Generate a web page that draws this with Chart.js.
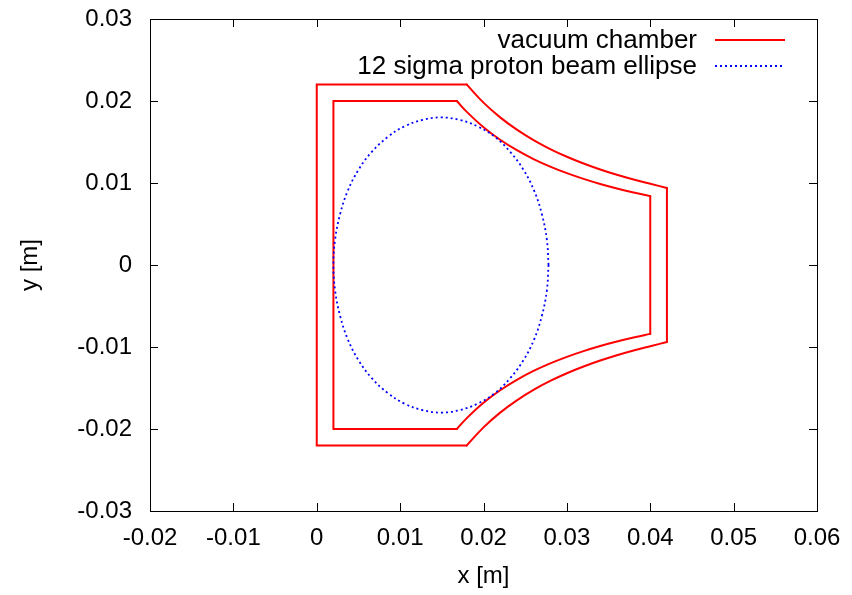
<!DOCTYPE html>
<html>
<head>
<meta charset="utf-8">
<script src="https://cdn.jsdelivr.net/npm/chart.js@4.4.1/dist/chart.umd.min.js"></script>
<style>
  html, body { margin: 0; padding: 0; background: #fff; }
</style>
</head>
<body>
<canvas id="chamberChart" width="852" height="595"></canvas>
<script>
// tick values on the axes
const xTicks = [-0.02, -0.01, 0, 0.01, 0.02, 0.03, 0.04, 0.05, 0.06];
const yTicks = [-0.03, -0.02, -0.01, 0, 0.01, 0.02, 0.03];

// vacuum chamber walls [x, y] in metres, null = break in the line
const outerEdges = [
    [0.018, 0.022], [0, 0.022], [0, -0.022], [0.018, -0.022], null,
    [0.042, 0.0094], [0.042, -0.0094]
];
const outerCurves = [
    [0.018, 0.0220], [0.020, 0.0198], [0.022, 0.0180], [0.024, 0.0165], [0.026, 0.01523],
    [0.028, 0.01414], [0.030, 0.0132], [0.032, 0.01238], [0.034, 0.01165], [0.036, 0.0110],
    [0.038, 0.01042], [0.040, 0.0099], [0.042, 0.0094], null,
    [0.018, -0.0220], [0.020, -0.0198], [0.022, -0.0180], [0.024, -0.0165], [0.026, -0.01523],
    [0.028, -0.01414], [0.030, -0.0132], [0.032, -0.01238], [0.034, -0.01165], [0.036, -0.0110],
    [0.038, -0.01042], [0.040, -0.0099], [0.042, -0.0094]
];
const innerEdges = [
    [0.0168, 0.020], [0.002, 0.020], [0.002, -0.020], [0.0168, -0.020], null,
    [0.040, 0.0084], [0.040, -0.0084]
];
const innerCurves = [
    [0.0168, 0.0200], [0.018, 0.01867], [0.020, 0.0168], [0.022, 0.01527], [0.024, 0.0140],
    [0.026, 0.01292], [0.028, 0.0120], [0.030, 0.0112], [0.032, 0.0105], [0.034, 0.00988],
    [0.036, 0.00933], [0.038, 0.00884], [0.040, 0.0084], null,
    [0.0168, -0.0200], [0.018, -0.01867], [0.020, -0.0168], [0.022, -0.01527], [0.024, -0.0140],
    [0.026, -0.01292], [0.028, -0.0120], [0.030, -0.0112], [0.032, -0.0105], [0.034, -0.00988],
    [0.036, -0.00933], [0.038, -0.00884], [0.040, -0.0084]
];

// 12 sigma beam ellipse, read round the curve
const beamEllipse = [
    [0.0278, 0.0000], [0.0276, 0.0031], [0.0270, 0.0062], [0.0261, 0.0090], [0.0248, 0.0116],
    [0.0232, 0.0138], [0.0214, 0.0156], [0.0193, 0.0169], [0.0171, 0.0177], [0.0149, 0.0180],
    [0.0127, 0.0177], [0.0105, 0.0169], [0.0085, 0.0156], [0.0066, 0.0138], [0.0050, 0.0116],
    [0.0037, 0.0090], [0.0028, 0.0062], [0.0022, 0.0031], [0.0020, 0.0000],
    [0.0022, -0.0031], [0.0028, -0.0062], [0.0037, -0.0090], [0.0050, -0.0116], [0.0066, -0.0138],
    [0.0085, -0.0156], [0.0105, -0.0169], [0.0127, -0.0177], [0.0149, -0.0180], [0.0171, -0.0177],
    [0.0193, -0.0169], [0.0214, -0.0156], [0.0232, -0.0138], [0.0248, -0.0116], [0.0261, -0.0090],
    [0.0270, -0.0062], [0.0276, -0.0031], [0.0278, 0.0000]
];

const toPoints = list => list.map(p => p ? { x: p[0], y: p[1] } : { x: null, y: null });
const family = "'Liberation Sans', Arial, sans-serif";
const font = { family: family, size: 24 };
const keyFont = { family: family, size: 26 };

// gnuplot style frame with inward ticks on all four sides
const framePlugin = {
    id: 'frame',
    afterDatasetsDraw(chart) {
        const { ctx, chartArea: a, scales: { x, y } } = chart;
        ctx.save();
        ctx.strokeStyle = '#000';
        ctx.lineWidth = 1;
        ctx.beginPath();
        xTicks.forEach(v => {
            const px = Math.round(x.getPixelForValue(v)) + 0.5;
            ctx.moveTo(px, a.bottom); ctx.lineTo(px, a.bottom - 8);
            ctx.moveTo(px, a.top); ctx.lineTo(px, a.top + 8);
        });
        yTicks.forEach(v => {
            const py = Math.round(y.getPixelForValue(v)) + 0.5;
            ctx.moveTo(a.left, py); ctx.lineTo(a.left + 8, py);
            ctx.moveTo(a.right, py); ctx.lineTo(a.right - 8, py);
        });
        ctx.stroke();
        ctx.strokeRect(Math.round(a.left) + 0.5, Math.round(a.top) + 0.5,
            Math.round(a.right - a.left), Math.round(a.bottom - a.top));
        ctx.restore();
    }
};

// legend in the top right corner, text to the left of the sample
const keyPlugin = {
    id: 'key',
    afterDraw(chart) {
        const { ctx, chartArea: a } = chart;
        ctx.save();
        ctx.font = `${keyFont.size}px ${keyFont.family}`;
        ctx.textAlign = 'right';
        ctx.textBaseline = 'middle';
        let row = 0;
        chart.data.datasets.forEach(ds => {
            if (!ds.inKey) return;
            const yy = a.top + 21 + row * 26;
            ctx.fillStyle = '#000';
            ctx.fillText(ds.label, a.right - 120, yy + 1);
            ctx.strokeStyle = ds.borderColor;
            ctx.lineWidth = ds.borderWidth;
            ctx.setLineDash(ds.borderDash || []);
            ctx.beginPath();
            ctx.moveTo(a.right - 102, yy);
            ctx.lineTo(a.right - 32, yy);
            ctx.stroke();
            row++;
        });
        ctx.restore();
    }
};

const wall = (label, list, tension, inKey) => ({
    label: label,
    inKey: inKey,
    data: toPoints(list),
    showLine: true,
    spanGaps: false,
    borderColor: '#ff0000',
    borderWidth: 2,
    borderCapStyle: 'round',
    pointRadius: 0,
    tension: tension,
    order: 2
});

new Chart(document.getElementById('chamberChart'), {
    type: 'scatter',
    data: {
        datasets: [
            wall('vacuum chamber', outerEdges, 0, true),
            wall('outer curves', outerCurves, 0.4, false),
            wall('inner edges', innerEdges, 0, false),
            wall('inner curves', innerCurves, 0.4, false),
            {
                label: '12 sigma proton beam ellipse',
                inKey: true,
                data: toPoints(beamEllipse),
                showLine: true,
                borderColor: '#0000ff',
                borderWidth: 1.8,
                borderDash: [2, 3],
                pointRadius: 0,
                tension: 0.4,
                order: 1
            }
        ]
    },
    options: {
        responsive: false,
        animation: false,
        layout: { padding: { top: 19, right: 35, left: 0, bottom: 0 } },
        plugins: {
            legend: { display: false },
            tooltip: { enabled: false }
        },
        scales: {
            x: {
                type: 'linear',
                min: -0.02,
                max: 0.06,
                afterFit: s => { s.height = 84; s.paddingLeft = 0; s.paddingRight = 0; },
                afterBuildTicks: s => { s.ticks = xTicks.map(v => ({ value: v })); },
                ticks: { font: font, color: '#000', padding: 13, maxRotation: 0, autoSkip: false, callback: v => String(v) },
                grid: { display: false, drawTicks: false },
                border: { display: false },
                title: { display: true, text: 'x [m]', font: font, color: '#000', padding: { top: 0, bottom: 4 } }
            },
            y: {
                type: 'linear',
                min: -0.03,
                max: 0.03,
                afterFit: s => { s.width = 150; s.paddingTop = 0; s.paddingBottom = 0; },
                afterBuildTicks: s => { s.ticks = yTicks.map(v => ({ value: v })); },
                ticks: { font: font, color: '#000', padding: 18, autoSkip: false, callback: v => String(v) },
                grid: { display: false, drawTicks: false },
                border: { display: false },
                title: { display: true, text: 'y [m]', font: font, color: '#000', padding: { top: 16, bottom: 0 } }
            }
        }
    },
    plugins: [framePlugin, keyPlugin]
});
</script>
</body>
</html>
